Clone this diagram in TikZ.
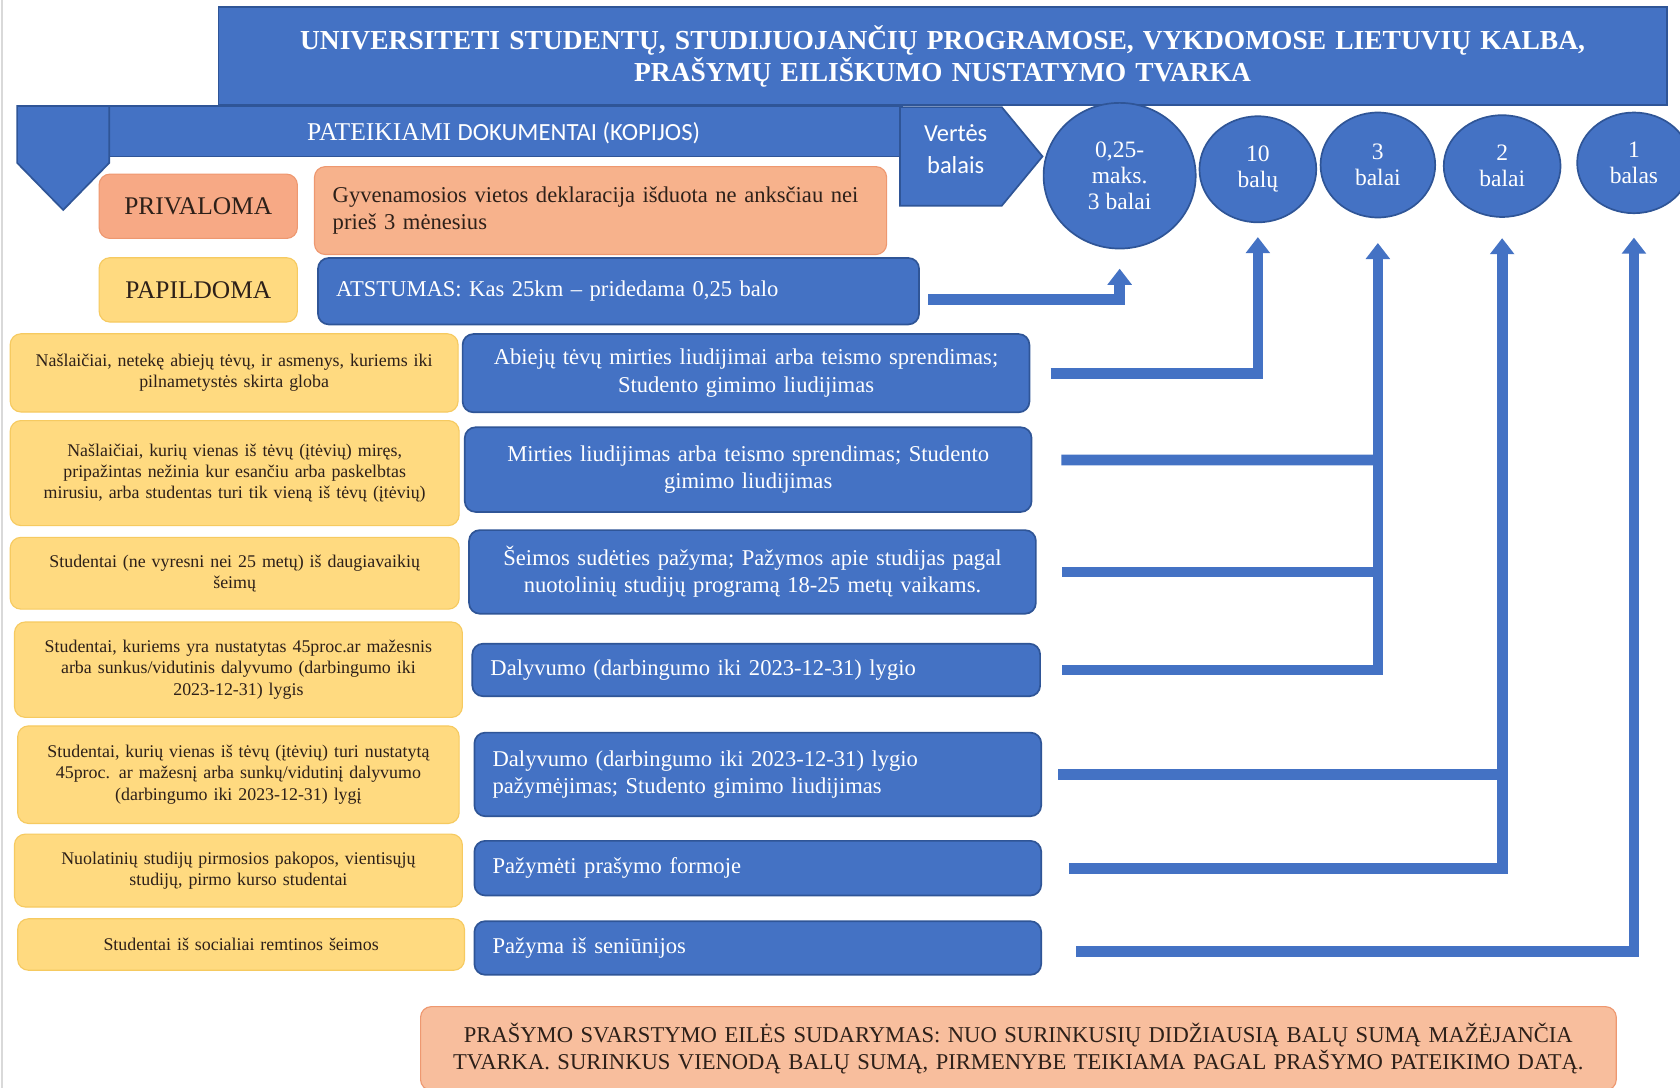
\documentclass[tikz,border=0pt]{standalone}
\usepackage{fontspec}
\setmainfont{Liberation Serif}
\newfontfamily\sansfnt{Carlito}
\usepackage{tikz}
\usetikzlibrary{
    arrows.meta,calc,positioning,shapes.geometric
}

\begin{document}
\begin{tikzpicture}[
  x=0.02cm, y=-0.02cm,
  >={Triangle[width=0.44cm,length=0.3cm]},
  wh/.style 2 args={minimum width={#1*0.02cm}, minimum height={#2*0.02cm},
    text width={#1*0.02cm-0.4cm}, inner xsep=0.2cm, inner ysep=0pt, align=center},
  whl/.style 2 args={minimum width={#1*0.02cm}, minimum height={#2*0.02cm},
    text width={#1*0.02cm-0.68cm}, inner xsep=0.34cm, inner ysep=0pt, align=left},
  bluebox/.style={anchor=north west, rounded corners=0.2cm, draw=lineblue,
    line width=0.9pt, fill=boxblue, text=white, font=\fontsize{12}{14.5}\selectfont},
  yellowbox/.style={anchor=north west, rounded corners=0.2cm, draw=yellowedge,
    line width=0.6pt, fill=softyellow, text=inkbrown, font=\fontsize{9.5}{11.3}\selectfont},
  salmonbox/.style={anchor=north west, rounded corners=0.2cm, draw=salmonedge,
    line width=0.6pt, fill=salmon, text=inkbrown, font=\fontsize{12}{14}\selectfont},
  tag/.style={font=\fontsize{13.5}{16}\selectfont},
  score/.style={ellipse, draw=lineblue, line width=0.9pt, fill=boxblue, text=white,
    inner sep=0pt, align=center, font=\fontsize{12.5}{14}\selectfont},
  shapeblue/.style={fill=boxblue, draw=lineblue, line width=0.9pt},
  link/.style={draw=boxblue, line width=0.2cm, ->},
]
  \definecolor{boxblue}{RGB}{68,114,196}
  \definecolor{lineblue}{RGB}{47,85,151}
  \definecolor{salmon}{RGB}{247,178,140}
  \definecolor{salmonedge}{RGB}{238,152,112}
  \definecolor{softyellow}{RGB}{255,218,128}
  \definecolor{yellowedge}{RGB}{246,202,96}
  \definecolor{inkbrown}{RGB}{45,32,25}

  % page frame
  \useasboundingbox (0,0) rectangle (1568,1015);
  \fill[white] (0,0) rectangle (1568,1015);
  \draw[gray!30, line width=1pt] (2,0) -- (2,1015);

  % Title
  \node[bluebox, rounded corners=0pt, wh={1352}{91},
        font=\fontsize{14.6}{17}\selectfont\bfseries] (title) at (203,6)
    {UNIVERSITETI STUDENTŲ, STUDIJUOJANČIŲ PROGRAMOSE, VYKDOMOSE LIETUVIŲ KALBA,\\
     PRAŠYMŲ EILIŠKUMO NUSTATYMO TVARKA};

  % Banner with the down arrow and the "Vertės balais" arrow
  \filldraw[shapeblue] (100,99) rectangle (842,146);
  \filldraw[shapeblue] (16,99) -- (102,99) -- (102,152) -- (59,196) -- (16,152) -- cycle;
  \filldraw[shapeblue] (840,100) -- (935,100) -- (973,146) -- (935,192) -- (840,192) -- cycle;
  \node[text=white, font=\fontsize{13.6}{15}\selectfont] (docs) at (470,124)
    {PATEIKIAMI {\sansfnt\fontsize{13.1}{15}\selectfont DOKUMENTAI (KOPIJOS)}};
  \node[text=white, align=center, font=\sansfnt\fontsize{13}{17}\selectfont] (verte) at (892,139)
    {Vertės\\balais};

  % Score circles
  \node[score, minimum width=2.84cm, minimum height=2.72cm] (c1) at (1045,164) {0,25-\\maks.\\3 balai};
  \node[score, minimum width=2.18cm, minimum height=1.98cm] (c2) at (1174,158) {10\\balų};
  \node[score, minimum width=2.14cm, minimum height=1.96cm] (c3) at (1286,154) {3\\balai};
  \node[score, minimum width=2.18cm, minimum height=1.90cm] (c4) at (1402,155) {2\\balai};
  \node[score, minimum width=2.12cm, minimum height=1.88cm] (c5) at (1525,152) {1\\balas};

  % Required and additional documents
  \node[salmonbox, tag, wh={185}{60}, fill=salmon!95!red] (priv) at (92,162) {PRIVALOMA};
  \node[salmonbox, whl={534}{82}] (decl) at (293,155)
    {Gyvenamosios vietos deklaracija išduota ne anksčiau nei\\prieš 3 mėnesius};
  \node[yellowbox, tag, wh={185}{60}] (papild) at (92,240) {PAPILDOMA};
  \node[bluebox, whl={561}{62}] (atst) at (296,240) {ATSTUMAS: Kas 25km – pridedama 0,25 balo};

  % Groups of students
  \node[yellowbox, wh={418}{73}] (g1) at (9,311)
    {Našlaičiai, netekę abiejų tėvų, ir asmenys, kuriems iki\\pilnametystės skirta globa};
  \node[yellowbox, wh={419}{98}] (g2) at (9,392)
    {Našlaičiai, kurių vienas iš tėvų (įtėvių) miręs,\\pripažintas nežinia kur esančiu arba paskelbtas\\mirusiu, arba studentas turi tik vieną iš tėvų (įtėvių)};
  \node[yellowbox, wh={419}{67}] (g3) at (9,501)
    {Studentai (ne vyresni nei 25 metų) iš daugiavaikių\\šeimų};
  \node[yellowbox, wh={418}{89}] (g4) at (13,580)
    {Studentai, kuriems yra nustatytas 45proc.ar mažesnis\\arba sunkus/vidutinis dalyvumo (darbingumo iki\\2023-12-31) lygis};
  \node[yellowbox, wh={412}{91}] (g5) at (16,677)
    {Studentai, kurių vienas iš tėvų (įtėvių) turi nustatytą\\45proc. ar mažesnį arba sunkų/vidutinį dalyvumo\\(darbingumo iki 2023-12-31) lygį};
  \node[yellowbox, wh={418}{68}] (g6) at (13,778)
    {Nuolatinių studijų pirmosios pakopos, vientisųjų\\studijų, pirmo kurso studentai};
  \node[yellowbox, wh={417}{48}] (g7) at (16,857)
    {Studentai iš socialiai remtinos šeimos};

  % Documents for each group
  \node[bluebox, wh={529}{73}] (b1) at (431,311)
    {Abiejų tėvų mirties liudijimai arba teismo sprendimas;\\Studento gimimo liudijimas};
  \node[bluebox, wh={529}{79}] (b2) at (433,398)
    {Mirties liudijimas arba teismo sprendimas; Studento\\gimimo liudijimas};
  \node[bluebox, wh={529}{78}] (b3) at (437,494)
    {Šeimos sudėties pažyma; Pažymos apie studijas pagal\\nuotolinių studijų programą 18-25 metų vaikams.};
  \node[bluebox, whl={530}{49}] (b4) at (440,600)
    {Dalyvumo (darbingumo iki 2023-12-31) lygio};
  \node[bluebox, whl={529}{78}] (b5) at (442,683)
    {Dalyvumo (darbingumo iki 2023-12-31) lygio\\pažymėjimas; Studento gimimo liudijimas};
  \node[bluebox, whl={529}{51}] (b6) at (442,784) {Pažymėti prašymo formoje};
  \node[bluebox, whl={529}{50}] (b7) at (442,859) {Pažyma iš seniūnijos};

  % Footer
  \node[salmonbox, wh={1116}{78}, fill=salmon!85!white, font=\fontsize{12}{14}\selectfont] (order) at (392,939)
    {PRAŠYMO SVARSTYMO EILĖS SUDARYMAS: NUO SURINKUSIŲ DIDŽIAUSIĄ BALŲ SUMĄ MAŽĖJANČIA\\
     TVARKA. SURINKUS VIENODĄ BALŲ SUMĄ, PIRMENYBE TEIKIAMA PAGAL PRAŠYMO PATEIKIMO DATĄ.};

  % Links from documents to points
  \draw[link, shorten >=0.36cm] ([xshift=0.16cm,yshift=-0.16cm]atst.east) -| (c1.south);
  \draw[link, shorten >=0.26cm] ([xshift=0.38cm]b1.east) -| (c2.south);
  \draw[link, shorten >=0.46cm] ([xshift=0.4cm]b4.east) -| (c3.south);
  \draw[link, -] ([xshift=0.54cm,yshift=0.18cm]b2.east) -- ($(b2.east -| c3.south)+(0,-9)$);
  \draw[link, -] ([xshift=0.48cm]b3.east) -- (b3.east -| c3.south);
  \draw[link, shorten >=0.38cm] ([xshift=0.5cm]b6.east) -| (c4.south);
  \draw[link, -] ([xshift=0.3cm]b5.east) -- (b5.east -| c4.south);
  \draw[link, shorten >=0.44cm] ([xshift=0.64cm,yshift=-0.06cm]b7.east) -| (c5.south);
\end{tikzpicture}
\end{document}
